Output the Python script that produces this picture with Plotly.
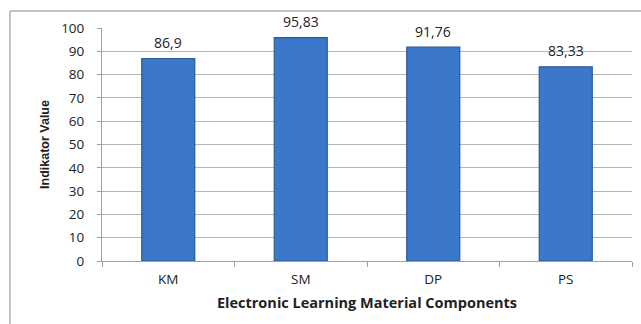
import plotly.graph_objects as go

categories = ["KM", "SM", "DP", "PS"]
values = [86.9, 95.83, 91.76, 83.33]
value_labels = ["86,9", "95,83", "91,76", "83,33"]
y_ticks = list(range(0, 101, 10))

W, H = 641, 324
L, R, T, B = 102, 9, 28, 63
pw, ph = W - L - R, H - T - B

fig = go.Figure()
fig.add_trace(go.Bar(
    x=categories, y=values, width=0.4,
    marker=dict(color="#3b78c9", line=dict(color="#2a5a98", width=1.2)),
    hoverinfo="skip",
))

for c, v, t in zip(categories, values, value_labels):
    fig.add_annotation(x=c, y=v, text=t, showarrow=False, yanchor="middle",
                       yshift=16, font=dict(family="Open Sans", size=14, color="#222"))

# outer frame
fig.add_shape(type="rect", xref="paper", yref="paper",
              x0=(10 - L) / pw, x1=(W + 5 - L) / pw,
              y0=-(H + 5 - T - ph) / ph, y1=1 + (T - 11) / ph,
              line=dict(color="#8a8a8a", width=1))

fig.update_layout(
    width=W, height=H,
    margin=dict(l=L, r=R, t=T, b=B),
    paper_bgcolor="white", plot_bgcolor="white",
    showlegend=False,
    font=dict(family="Open Sans", size=13, color="#222"),
    xaxis=dict(
        showgrid=False, showline=True, linecolor="#a0a0a0", linewidth=1,
        ticks="outside", ticklen=5, tickcolor="#a0a0a0", tickson="boundaries",
        tickfont=dict(size=13.5), ticklabelstandoff=6,
        title=dict(text="<b>Electronic Learning Material Components</b>",
                   font=dict(size=14.5, family="Open Sans"), standoff=10),
    ),
    yaxis=dict(
        range=[0, 100], tickvals=y_ticks,
        showgrid=True, gridcolor="#b5b5b5", gridwidth=1,
        showline=True, linecolor="#a0a0a0", linewidth=1,
        ticks="outside", ticklen=4, tickcolor="#a0a0a0",
        tickfont=dict(size=13.5), zeroline=False, ticklabelstandoff=10,
        title=dict(text="<b>Indikator Value</b>",
                   font=dict(size=12.5, family="Liberation Sans"), standoff=8),
    ),
)

fig.write_html("out.html")
